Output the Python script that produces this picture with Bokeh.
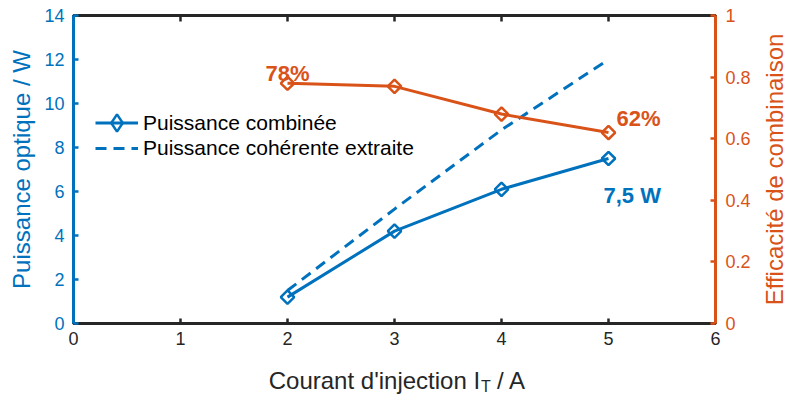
import math
from bokeh.plotting import figure
from bokeh.layouts import column, row
from bokeh.models import Range1d, LinearAxis, FixedTicker, Legend, LegendItem, Label
from bokeh.core.properties import value
from bokeh.embed import file_html
from bokeh.resources import INLINE

# ---- data ----
current = [2, 3, 4, 5]                 # Courant d'injection I_T / A
p_combined = [1.2, 4.2, 6.1, 7.5]      # Puissance combinée / W
p_coherent = [1.5, 5.2, 8.8, 12.0]     # Puissance cohérente extraite / W
efficiency = [0.78, 0.77, 0.68, 0.62]  # Efficacité de combinaison

x_ticks = [0, 1, 2, 3, 4, 5, 6]
y_ticks = [0, 2, 4, 6, 8, 10, 12, 14]
eff_ticks = [0, 0.2, 0.4, 0.6, 0.8, 1]
eff_tick_labels = ["0", "0.2", "0.4", "0.6", "0.8", "1"]

BLUE = "#0072BD"
ORANGE = "#D95319"
DARK = "#262626"
FONT = "Liberation Sans"

W_MAIN = 755
W_RIGHT = 34
H_MAIN = 352
H_LABEL = 42
H_ALL = H_MAIN + H_LABEL
FRAME_L, FRAME_R, FRAME_T, FRAME_B = 73, 715, 15, 323

p = figure(width=W_MAIN, height=H_MAIN, x_range=Range1d(0, 6), y_range=Range1d(0, 14),
           output_backend="svg", toolbar_location=None, margin=(0, 0, 0, 0),
           min_border_left=FRAME_L, min_border_right=W_MAIN - FRAME_R,
           min_border_top=FRAME_T, min_border_bottom=H_MAIN - FRAME_B)
p.extra_y_ranges = {"eff": Range1d(0, 1)}
p.grid.visible = False
p.outline_line_color = DARK
p.outline_line_width = 3


def style(ax, color):
    ax.axis_line_color = color
    ax.axis_line_width = 3
    ax.major_tick_line_color = color
    ax.major_tick_line_width = 2.5
    ax.major_tick_in = 5
    ax.major_tick_out = 0
    ax.minor_tick_line_color = None
    ax.major_label_text_color = color
    ax.major_label_text_font = FONT
    ax.major_label_text_font_size = "18px"
    ax.axis_label_text_font = FONT
    ax.axis_label_text_font_size = "24px"
    ax.axis_label_text_font_style = "normal"
    ax.axis_label_text_color = color


# bottom axis
xa = p.xaxis[0]
xa.ticker = FixedTicker(ticks=x_ticks)
style(xa, DARK)
xa.major_label_standoff = 8

# left axis
ya = p.yaxis[0]
ya.ticker = FixedTicker(ticks=y_ticks)
style(ya, BLUE)
ya.major_label_standoff = 9
ya.axis_label = "Puissance optique / W"
ya.axis_label_standoff = 6

# right axis (its title is drawn in the strip on the right)
ra = LinearAxis(y_range_name="eff", ticker=FixedTicker(ticks=eff_ticks),
                major_label_overrides=dict(zip(eff_ticks, eff_tick_labels)))
style(ra, ORANGE)
ra.major_label_standoff = 10
p.add_layout(ra, "right")

# inner ticks on the top edge of the box
p.scatter(x_ticks, [p.y_range.end] * len(x_ticks), marker="dash", angle=math.pi / 2,
          size=12, line_color=DARK, line_width=2.5)

# series
coh = p.line(current, p_coherent, line_color=BLUE, line_width=3, line_dash="11 7")
comb_line = p.line(current, p_combined, line_color=BLUE, line_width=3)
comb_pts = p.scatter(current, p_combined, marker="square", angle=math.pi / 4, size=9.5,
                     line_color=BLUE, line_width=2.5, fill_color=None)
comb_key = p.scatter(current, p_combined, marker="diamond", size=16,
                     line_color=BLUE, line_width=2.5, fill_color=None, visible=False)
eff_line = p.line(current, efficiency, y_range_name="eff", line_color=ORANGE, line_width=3)
eff_pts = p.scatter(current, efficiency, y_range_name="eff", marker="square", angle=math.pi / 4,
                    size=9.5, line_color=ORANGE, line_width=2.5, fill_color=None)

legend_style = dict(label_text_font=FONT, label_text_font_size="21px",
                    label_text_color="black", glyph_width=43, label_standoff=5,
                    spacing=0, padding=0, margin=0, border_line_color=None,
                    background_fill_alpha=0)
legend1 = Legend(items=[LegendItem(label="Puissance combinée", renderers=[comb_line, comb_key])],
                 location=(22, 179), glyph_height=43, label_height=43, **legend_style)
legend2 = Legend(items=[LegendItem(label="Puissance cohérente extraite", renderers=[coh])],
                 location=(22, 163), glyph_height=24, label_height=24, **legend_style)
p.add_layout(legend1)
p.add_layout(legend2)

# annotations
p.add_layout(Label(x=current[0], y=efficiency[0], y_range_name="eff",
                   text=f"{round(efficiency[0] * 100)}%", text_align="center",
                   text_baseline="alphabetic", y_offset=10, text_font=FONT,
                   text_font_style="bold", text_font_size="22px", text_color=ORANGE))
p.add_layout(Label(x=current[-1], y=efficiency[-1], y_range_name="eff",
                   text=f"{round(efficiency[-1] * 100)}%", text_align="left",
                   text_baseline="alphabetic", x_offset=8, y_offset=14, text_font=FONT,
                   text_font_style="bold", text_font_size="22px", text_color=ORANGE))
p.add_layout(Label(x=current[-1], y=p_combined[-1],
                   text=f"{p_combined[-1]:.1f} W".replace(".", ","), text_align="left",
                   text_baseline="alphabetic", x_offset=-5, y_offset=-37, text_font=FONT,
                   text_font_style="bold", text_font_size="22px", text_color=BLUE))

# x axis title (with subscript) drawn in a strip below the chart
q = figure(width=W_MAIN, height=H_LABEL, x_range=p.x_range, y_range=Range1d(0, H_LABEL),
           output_backend="svg", toolbar_location=None, x_axis_type=None, y_axis_type=None,
           margin=(0, 0, 0, 0),
           min_border_left=FRAME_L, min_border_right=W_MAIN - FRAME_R,
           min_border_top=0, min_border_bottom=0)
q.grid.visible = False
q.outline_line_color = None
xr = 3.80
q.text(x=[xr], y=[14], text=["Courant d'injection I"], text_align="right",
       text_baseline="alphabetic", text_font=value(FONT), text_font_size="24px",
       text_color=DARK)
q.text(x=[xr], y=[8.5], text=["T"], text_align="left", x_offset=1,
       text_baseline="alphabetic", text_font=value(FONT), text_font_size="16px",
       text_color=DARK)
q.text(x=[xr], y=[14], text=["/ A"], text_align="left", x_offset=17,
       text_baseline="alphabetic", text_font=value(FONT), text_font_size="24px",
       text_color=DARK)

# right axis title, reading upwards, in a narrow strip on the right
r = figure(width=W_RIGHT, height=H_ALL, x_range=Range1d(0, W_RIGHT), y_range=Range1d(0, H_ALL),
           output_backend="svg", toolbar_location=None, x_axis_type=None, y_axis_type=None,
           margin=(0, 0, 0, 0),
           min_border_left=0, min_border_right=0, min_border_top=0, min_border_bottom=0)
r.grid.visible = False
r.outline_line_color = None
r.text(x=[19], y=[H_ALL - (FRAME_T + FRAME_B) / 2], text=["Efficacité de combinaison"],
       angle=math.pi / 2, text_align="center", text_baseline="middle",
       text_font=value(FONT), text_font_size="24px", text_color=ORANGE)

layout = row(column(p, q, spacing=0, margin=(0, 0, 0, 0)), r, spacing=0, margin=(0, 0, 0, 0))
open("out.html", "w").write(file_html(layout, INLINE))
